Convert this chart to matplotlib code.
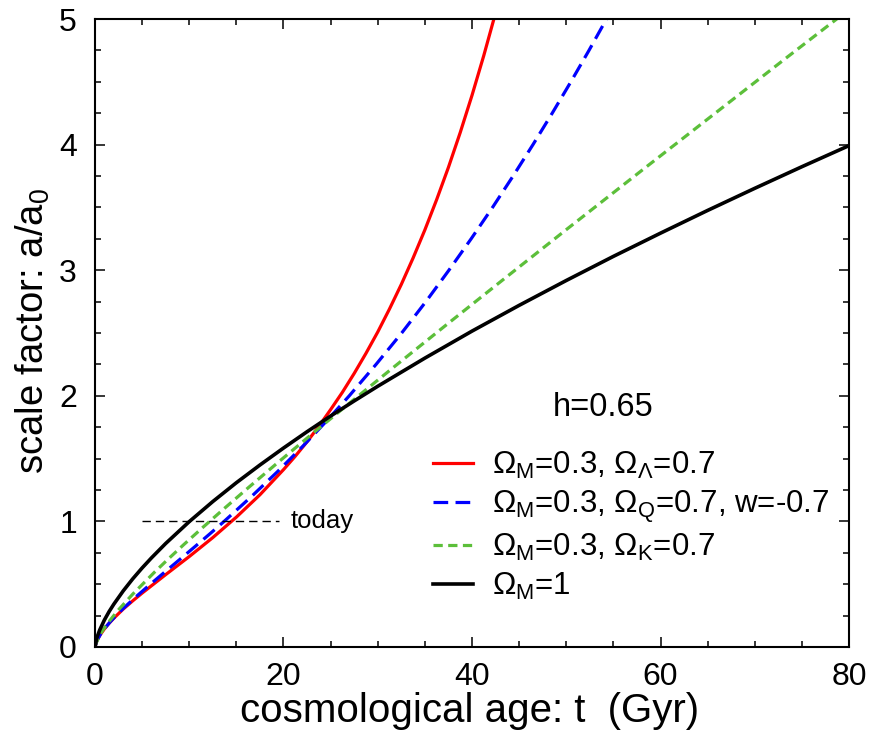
import matplotlib
matplotlib.use("Agg")
import matplotlib.pyplot as plt
from matplotlib.ticker import MultipleLocator

plt.rcParams['font.family'] = ['Liberation Sans', 'DejaVu Sans']
plt.rcParams['mathtext.fontset'] = 'custom'
plt.rcParams['mathtext.rm'] = 'Liberation Sans'
plt.rcParams['mathtext.it'] = 'Liberation Sans:italic'
plt.rcParams['mathtext.bf'] = 'Liberation Sans:bold'

# --- data ---
# Omega_M=0.3, Omega_Lambda=0.7
t_lcdm = [0, 0.2, 0.5, 1, 1.5, 2, 3, 4, 5, 7.5, 10, 12.5, 15, 17.5, 20, 21.25,
          22.5, 23.75, 25, 26.25, 27.5, 28.75, 30, 31.25, 32.5, 33.75, 35,
          36.25, 37.5, 38.75, 40, 41.25, 42.5]
a_lcdm = [0, 0.049, 0.091, 0.144, 0.189, 0.229, 0.302, 0.367, 0.429, 0.576,
          0.720, 0.871, 1.034, 1.212, 1.412, 1.519, 1.634, 1.757, 1.890, 2.028,
          2.178, 2.338, 2.508, 2.692, 2.887, 3.097, 3.321, 3.562, 3.819, 4.096,
          4.392, 4.709, 5.048]

# Omega_M=0.3, Omega_Q=0.7, w=-0.7
t_quint = [0, 0.205, 0.578, 1.053, 1.614, 2.232, 2.901, 4.350, 5.882, 7.457,
           9.047, 10.62, 12.175, 13.70, 16.63, 19.42, 22.07, 24.58, 26.98,
           29.82, 32.54, 35.11, 37.55, 39.91, 42.18, 44.36, 46.47, 48.51,
           50.49, 52.41, 54.27]
a_quint = [0, 0.05, 0.1, 0.15, 0.2, 0.25, 0.3, 0.4, 0.5, 0.6, 0.7, 0.8, 0.9,
           1.0, 1.2, 1.4, 1.6, 1.8, 2.0, 2.25, 2.5, 2.75, 3.0, 3.25, 3.5, 3.75,
           4.0, 4.25, 4.5, 4.75, 5.0]

# Omega_M=0.3, Omega_K=0.7
t_open = [0, 0.081, 0.675, 1.356, 2.424, 4.008, 6.267, 7.711, 9.404, 11.38,
          13.675, 16.34, 19.41, 22.95, 27.03, 31.71, 37.08, 43.22, 50.24,
          58.26, 67.41, 73.49, 80.09]
a_open = [0, 0.027, 0.116, 0.190, 0.290, 0.421, 0.592, 0.696, 0.814, 0.948,
          1.100, 1.273, 1.469, 1.691, 1.943, 2.229, 2.553, 2.920, 3.337,
          3.809, 4.344, 4.699, 5.081]

# Omega_M=1
t_eds = [0, 0.2, 0.5, 1, 1.5, 2, 3, 4, 5, 6, 7.5, 10, 12.5, 15, 17.5, 20,
         22.5, 25, 27.5, 30, 35, 40, 45, 50, 55, 60, 65, 70, 75, 80]
a_eds = [0, 0.074, 0.135, 0.215, 0.282, 0.341, 0.447, 0.542, 0.629, 0.710,
         0.824, 0.998, 1.158, 1.308, 1.449, 1.584, 1.714, 1.839, 1.959, 2.076,
         2.300, 2.515, 2.720, 2.918, 3.110, 3.295, 3.476, 3.652, 3.824, 3.992]

today_t = [5, 19.5]
today_a = [1, 1]

labels = [r'$\Omega_\mathrm{M}$=0.3, $\Omega_\Lambda$=0.7',
          r'$\Omega_\mathrm{M}$=0.3, $\Omega_\mathrm{Q}$=0.7, w=-0.7',
          r'$\Omega_\mathrm{M}$=0.3, $\Omega_\mathrm{K}$=0.7',
          r'$\Omega_\mathrm{M}$=1']

fig = plt.figure(figsize=(8.69, 7.40), dpi=100)
ax = fig.add_axes([0.1093, 0.1257, 0.8677, 0.8486])

lw = 2.3
ax.plot(t_lcdm, a_lcdm, color='#ff0000', lw=lw, label=labels[0])
ax.plot(t_quint, a_quint, color='#0000ff', lw=lw, dashes=(4.6, 2.3), label=labels[1])
ax.plot(t_open, a_open, color='#5cbf3a', lw=lw, dashes=(2.9, 1.7), label=labels[2])
ax.plot(t_eds, a_eds, color='black', lw=2.6, label=labels[3])

ax.plot(today_t, today_a, color='black', lw=1.0, dashes=(6, 3.6))
ax.text(20.8, 1.0, 'today', fontsize=18.5, va='center', ha='left')

ax.text(0.674, 0.382, 'h=0.65', transform=ax.transAxes, fontsize=23.5,
        ha='center', va='center')

leg = ax.legend(loc='upper left', bbox_to_anchor=(0.448, 0.314), frameon=False,
                fontsize=22.5, handlelength=1.3, handletextpad=0.58,
                labelspacing=0.23, borderaxespad=0, borderpad=0)

ax.set_xlim(0, 80)
ax.set_ylim(0, 5)
ax.xaxis.set_major_locator(MultipleLocator(20))
ax.xaxis.set_minor_locator(MultipleLocator(5))
ax.yaxis.set_major_locator(MultipleLocator(1))
ax.yaxis.set_minor_locator(MultipleLocator(0.25))
ax.tick_params(which='both', direction='in', top=True, right=True, width=1.1)
ax.tick_params(which='major', length=7, labelsize=23)
ax.tick_params(axis='x', which='major', pad=11)
ax.tick_params(axis='y', which='major', pad=13)
ax.tick_params(which='minor', length=4.5)
for s in ax.spines.values():
    s.set_linewidth(1.5)

ax.set_xlabel('cosmological age: t  (Gyr)', fontsize=29)
ax.set_ylabel(r'scale factor: a/a$_0$', fontsize=27.5)
ax.xaxis.set_label_coords(0.497, -0.102, transform=ax.transAxes)
ax.yaxis.set_label_coords(-0.083, 0.503, transform=ax.transAxes)
ax.xaxis.label.set_va('center')
ax.yaxis.label.set_va('center')

fig.savefig('out.png', dpi=100)
